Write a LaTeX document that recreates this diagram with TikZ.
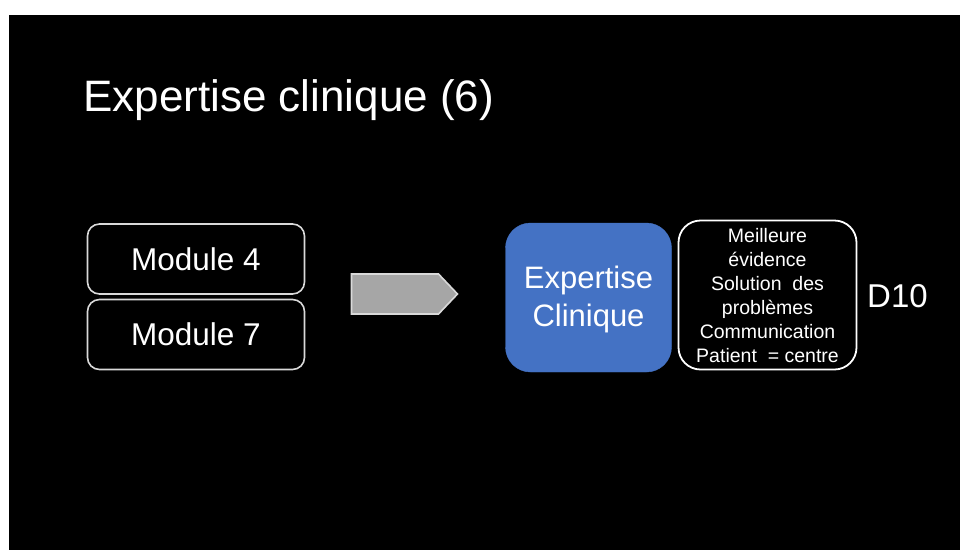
\documentclass[tikz,border=0pt]{standalone}
\usepackage{fontspec}
\setmainfont{Liberation Sans}
\usetikzlibrary{shapes.symbols}
\definecolor{slideblue}{HTML}{4472C4}
\definecolor{framegray}{HTML}{D9D9D9}
\definecolor{arrowgray}{HTML}{A6A6A6}
\begin{document}
\begin{tikzpicture}[x=1pt,y=-1pt,
  modbox/.style={draw=framegray, line width=1.6pt, rounded corners=12pt,
    minimum width=217pt, minimum height=70pt, inner sep=0pt, text=white,
    font=\fontsize{31.5}{36}\selectfont},
  keybox/.style={fill=slideblue, draw=slideblue, rounded corners=25pt,
    minimum width=166pt, minimum height=149pt, inner sep=0pt},
  keytext/.style={text=white, align=center, inner sep=0pt,
    font=\fontsize{31}{38}\selectfont},
  listbox/.style={draw=white, line width=1.8pt, rounded corners=22pt,
    minimum width=178pt, minimum height=149pt, inner sep=0pt},
  listtext/.style={text=white, align=center, inner sep=0pt,
    font=\fontsize{19.5}{24}\selectfont},
  flowarrow/.style={signal, signal to=east, signal pointer angle=93,
    fill=arrowgray, draw=framegray, line width=1.6pt,
    minimum width=106pt, minimum height=40pt, inner sep=0pt}
]
  % page and slide background
  \useasboundingbox (0,0) rectangle (960,550);
  \fill[white] (0,0) rectangle (960,550);
  \fill[black] (9,15) rectangle (960,550);

  % title
  \node[anchor=base west, text=white, inner sep=0pt,
    font=\fontsize{44}{52}\selectfont] (title) at (83,111.5) {Expertise clinique (6)};

  % modules
  \node[modbox] (m4) at (196,259) {Module 4};
  \node[modbox] (m7) at (196,334.5) {Module 7};

  % block arrow
  \node[flowarrow] (flow) at (395,294) {};

  % central box and its caption
  \node[keybox] (expert) at (588.5,297.5) {};
  \node[keytext] (experttext) at (588.5,299.5) {Expertise\\Clinique};

  % list box
  \node[listbox] (list) at (767.5,295) {};
  \node[listtext] (items) at (767.5,296) {Meilleure\\évidence\\Solution\ \ des\\problèmes\\Communication\\Patient \ = centre};

  % label
  \node[anchor=base west, text=white, inner sep=0pt,
    font=\fontsize{33}{40}\selectfont] (d10) at (867,307) {D10};
\end{tikzpicture}
\end{document}
